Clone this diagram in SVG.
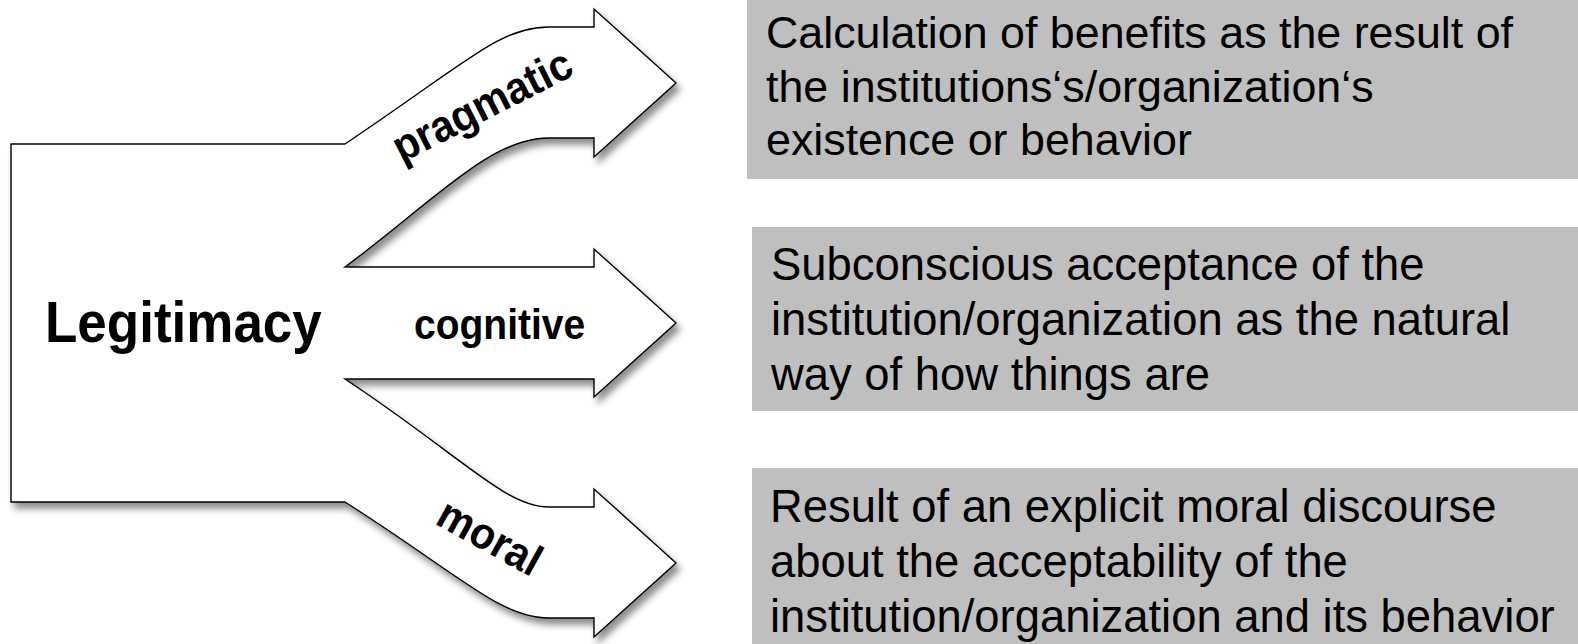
<svg xmlns="http://www.w3.org/2000/svg" width="1578" height="644" viewBox="0 0 1578 644">
<style>
.shape{fill:#ffffff;stroke:#000000;stroke-width:1.4;stroke-linejoin:miter}
.lbl{font-family:"Liberation Sans",Arial,sans-serif;font-weight:bold;fill:#000}
.box{fill:#bfbfbf}
.desc{font-family:"Liberation Sans",Arial,sans-serif;fill:#000}
</style>
<defs>
<filter id="sh" x="-10%" y="-10%" width="130%" height="130%">
<feDropShadow dx="4" dy="6" stdDeviation="3.5" flood-color="#000" flood-opacity="0.45"/>
</filter>
</defs>
<g id="connectors">
<path class="shape" filter="url(#sh)" d="M11,144 L345,144 C470,60 500,27 549,27 L594,27 L594,9 L676,83 L594,157 L594,138 L549,138 C490,138 435,200 345,267 L594,267 L594,249 L676,323 L594,397 L594,379 L345,379 C460,455 505,507 549,507 L594,507 L594,489 L676,563 L594,637 L594,618 L549,618 C500,618 460,575 345,502 L11,502 Z"/>
</g>
<g id="legitimacy">
<text class="lbl" font-size="53" transform="translate(45,342) scale(1,1.09)" x="0" y="0">Legitimacy</text>
</g>
<g id="pragmatic">
<text class="lbl" font-size="41" text-anchor="middle" transform="translate(484,109) rotate(-27) scale(1,1.08)" x="0" y="10">pragmatic</text>
</g>
<g id="cognitive">
<text class="lbl" font-size="39" transform="translate(414,339) scale(1,1.09)" x="0" y="0">cognitive</text>
</g>
<g id="moral">
<text class="lbl" font-size="41" text-anchor="middle" transform="translate(490,537) rotate(29) scale(1,1.08)" x="0" y="14">moral</text>
</g>
<g id="desc-pragmatic">
<rect class="box" x="747" y="0" width="831" height="179"/>
<text class="desc" font-size="44.8"><tspan x="766" y="48">Calculation of benefits as the result of</tspan><tspan x="766" y="101.5">the institutions‘s/organization‘s</tspan><tspan x="766" y="155">existence or behavior</tspan></text>
</g>
<g id="desc-cognitive">
<rect class="box" x="752" y="227" width="826" height="184"/>
<text class="desc" font-size="45.4"><tspan x="771" y="280">Subconscious acceptance of the</tspan><tspan x="771" y="335">institution/organization as the natural</tspan><tspan x="771" y="390">way of how things are</tspan></text>
</g>
<g id="desc-moral">
<rect class="box" x="752" y="468" width="826" height="176"/>
<text class="desc" font-size="45.4"><tspan x="770" y="522">Result of an explicit moral discourse</tspan><tspan x="770" y="577">about the acceptability of the</tspan><tspan x="770" y="632">institution/organization and its behavior</tspan></text>
</g>
</svg>
